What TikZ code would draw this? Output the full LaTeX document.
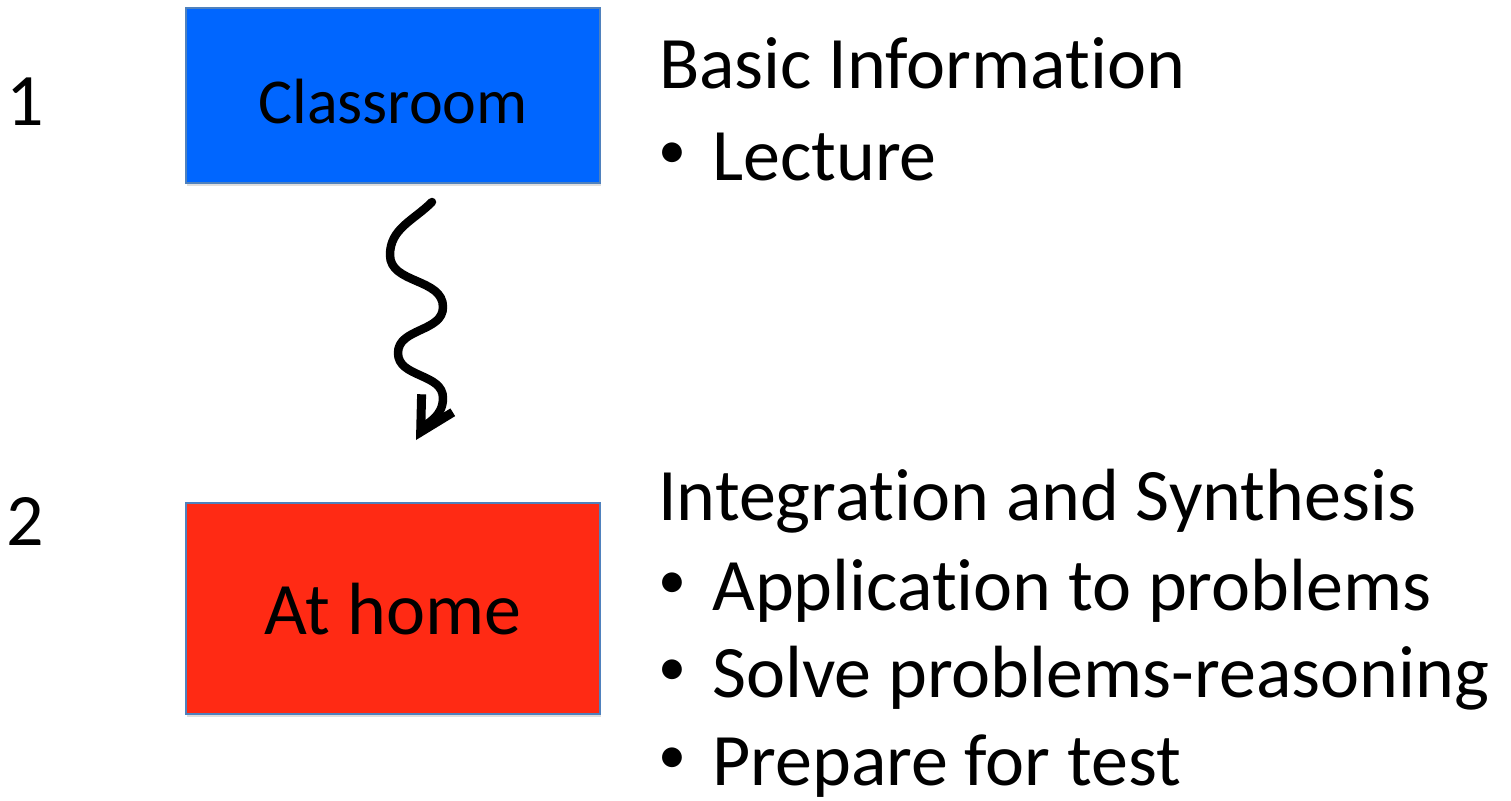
\documentclass[tikz,border=0pt]{standalone}
\usepackage{fontspec}
\setmainfont{Carlito}[Ligatures=NoCommon]
\usetikzlibrary{arrows.meta,shadows}
\definecolor{classblue}{RGB}{0,102,255}
\definecolor{homered}{RGB}{255,42,20}
\definecolor{boxedge}{RGB}{79,129,189}

\begin{document}
\begin{tikzpicture}[x=1bp,y={(0,-1bp)},
  stagebox/.style={draw=boxedge, line width=1.5bp, inner sep=0pt, outer sep=0pt,
    minimum width=414bp,
    drop shadow={shadow xshift=1bp, shadow yshift=-3bp, opacity=0.25}},
  bigtext/.style={font=\fontsize{74bp}{88bp}\selectfont},
  smalltext/.style={font=\fontsize{64bp}{77bp}\selectfont},
  textline/.style={anchor=base west, inner sep=0pt, bigtext},
  bulletdot/.style={anchor=base, inner sep=0pt, font=\fontsize{56bp}{66bp}\selectfont},
  wiggle/.style={line width=8.5bp, line cap=round, line join=round,
    -{Straight Barb[length=33bp, width=36bp, line width=9bp]}},
]
\useasboundingbox (0,0) rectangle (1511,800);

% step numbers
\node[textline] (n1) at (6,125) {1};
\node[textline] (n2) at (6,545) {2};

% the two stages
\node[stagebox, fill=classblue, minimum height=175bp, smalltext,
      text height=55bp, text depth=0pt] (cls) at (393,95.5) {Classroom};
\node[stagebox, fill=homered, minimum height=211bp, bigtext,
      text height=51bp, text depth=0pt] (home) at (393,608.5) {At home};

% descriptions of stage 1
\node[textline] (h1) at (659,88) {Basic Information};
\node[bulletdot] (b1) at (672,168) {•};
\node[textline] (t1) at (712,180) {Lecture};

% descriptions of stage 2
\node[textline] (h2) at (658,520) {Integration and Synthesis};
\node[bulletdot] (b2) at (672,598) {•};
\node[textline] (t2) at (712,610) {Application to problems};
\node[bulletdot] (b3) at (672,685) {•};
\node[textline] (t3) at (712,697) {Solve problems-reasoning};
\node[bulletdot] (b4) at (672,773) {•};
\node[textline] (t4) at (712,785) {Prepare for test};

% wavy arrow from the classroom down to home
\coordinate (wtop) at (432,202);
\coordinate (wtip) at (416,440);
\draw[wiggle] (wtop) to[out=-135,in=90] (390,255)
  to[out=-90,in=90] (443,307)
  to[out=-90,in=90] (398,353)
  to[out=-90,in=90] (443,398)
  to[out=-90,in=60] (wtip);
\end{tikzpicture}
\end{document}
